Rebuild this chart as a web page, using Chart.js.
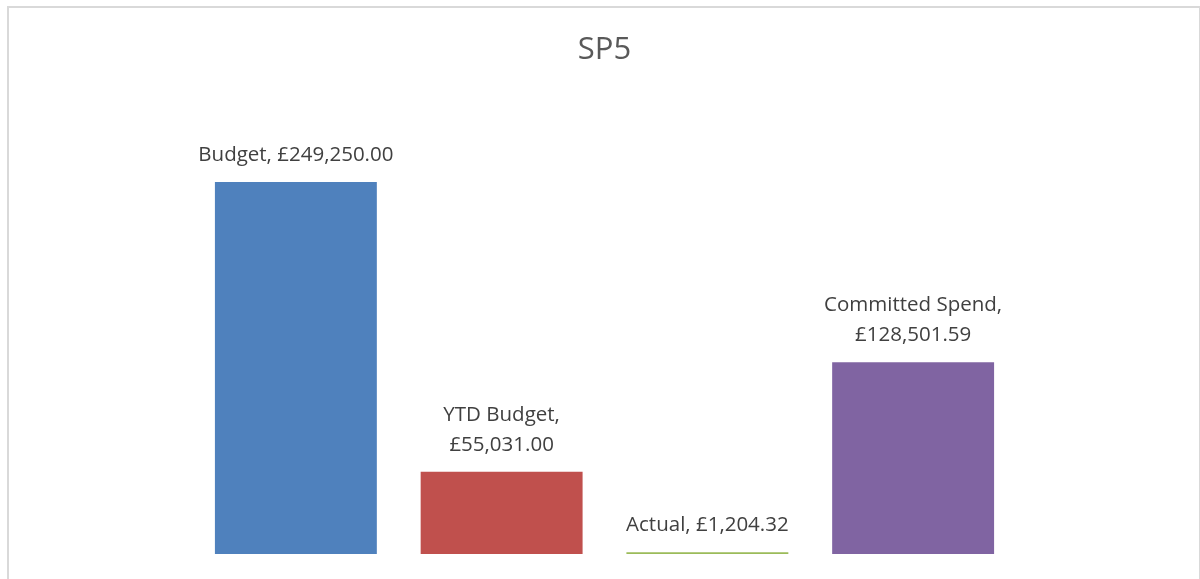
<!DOCTYPE html>
<html>
<head>
<meta charset="utf-8">
<script src="https://cdn.jsdelivr.net/npm/chart.js@4"></script>
<style>
  body { margin: 0; background: #fff; }
  #wrap { position: relative; width: 1200px; height: 579px; overflow: hidden; }
  #frame {
    position: absolute; left: 7px; top: 6px; width: 1190px; height: 620px;
    border: 2px solid #d9d9d9; pointer-events: none;
  }
</style>
</head>
<body>
<div id="wrap">
  <canvas id="chart" width="1200" height="579"></canvas>
  <div id="frame"></div>
</div>
<script>
// Chart data
const categories = ['Budget', 'YTD Budget', 'Actual', 'Committed Spend'];
const values = [249250.00, 55031.00, 1204.32, 128501.59];
const barColors = ['#4F81BD', '#C0504D', '#9BBB59', '#8064A2'];
// how each data label is split into lines
const labelLines = [
  ['Budget, £249,250.00'],
  ['YTD Budget,', '£55,031.00'],
  ['Actual, £1,204.32'],
  ['Committed Spend,', '£128,501.59']
];

// Draws the "name, value" labels above each bar
const barLabels = {
  id: 'barLabels',
  afterDatasetsDraw(chart) {
    const ctx = chart.ctx;
    const meta = chart.getDatasetMeta(0);
    ctx.save();
    ctx.font = '20.5px "Open Sans"';
    ctx.fillStyle = '#404040';
    ctx.textAlign = 'center';
    ctx.textBaseline = 'middle';
    meta.data.forEach((bar, i) => {
      const lines = labelLines[i];
      lines.forEach((line, j) => {
        const y = bar.y - 27 - (lines.length - 1 - j) * 30;
        ctx.fillText(line, bar.x, y);
      });
    });
    ctx.restore();
  }
};

const ctx = document.getElementById('chart').getContext('2d');
new Chart(ctx, {
  type: 'bar',
  data: {
    labels: categories,
    datasets: [{
      data: values,
      backgroundColor: barColors,
      borderWidth: 0,
      categoryPercentage: 1,
      barPercentage: 0.787
    }]
  },
  options: {
    responsive: false,
    animation: false,
    layout: { padding: { left: 193, right: 184, top: 0, bottom: 25 } },
    plugins: {
      legend: { display: false },
      tooltip: { enabled: false },
      title: {
        display: true,
        text: 'SP5',
        color: '#595959',
        font: { family: 'Open Sans', size: 31, weight: 'normal' },
        padding: { top: 32, bottom: 37 }
      }
    },
    scales: {
      x: { display: false },
      y: { display: false, min: 0, max: 300000 }
    }
  },
  plugins: [barLabels]
});
</script>
</body>
</html>
